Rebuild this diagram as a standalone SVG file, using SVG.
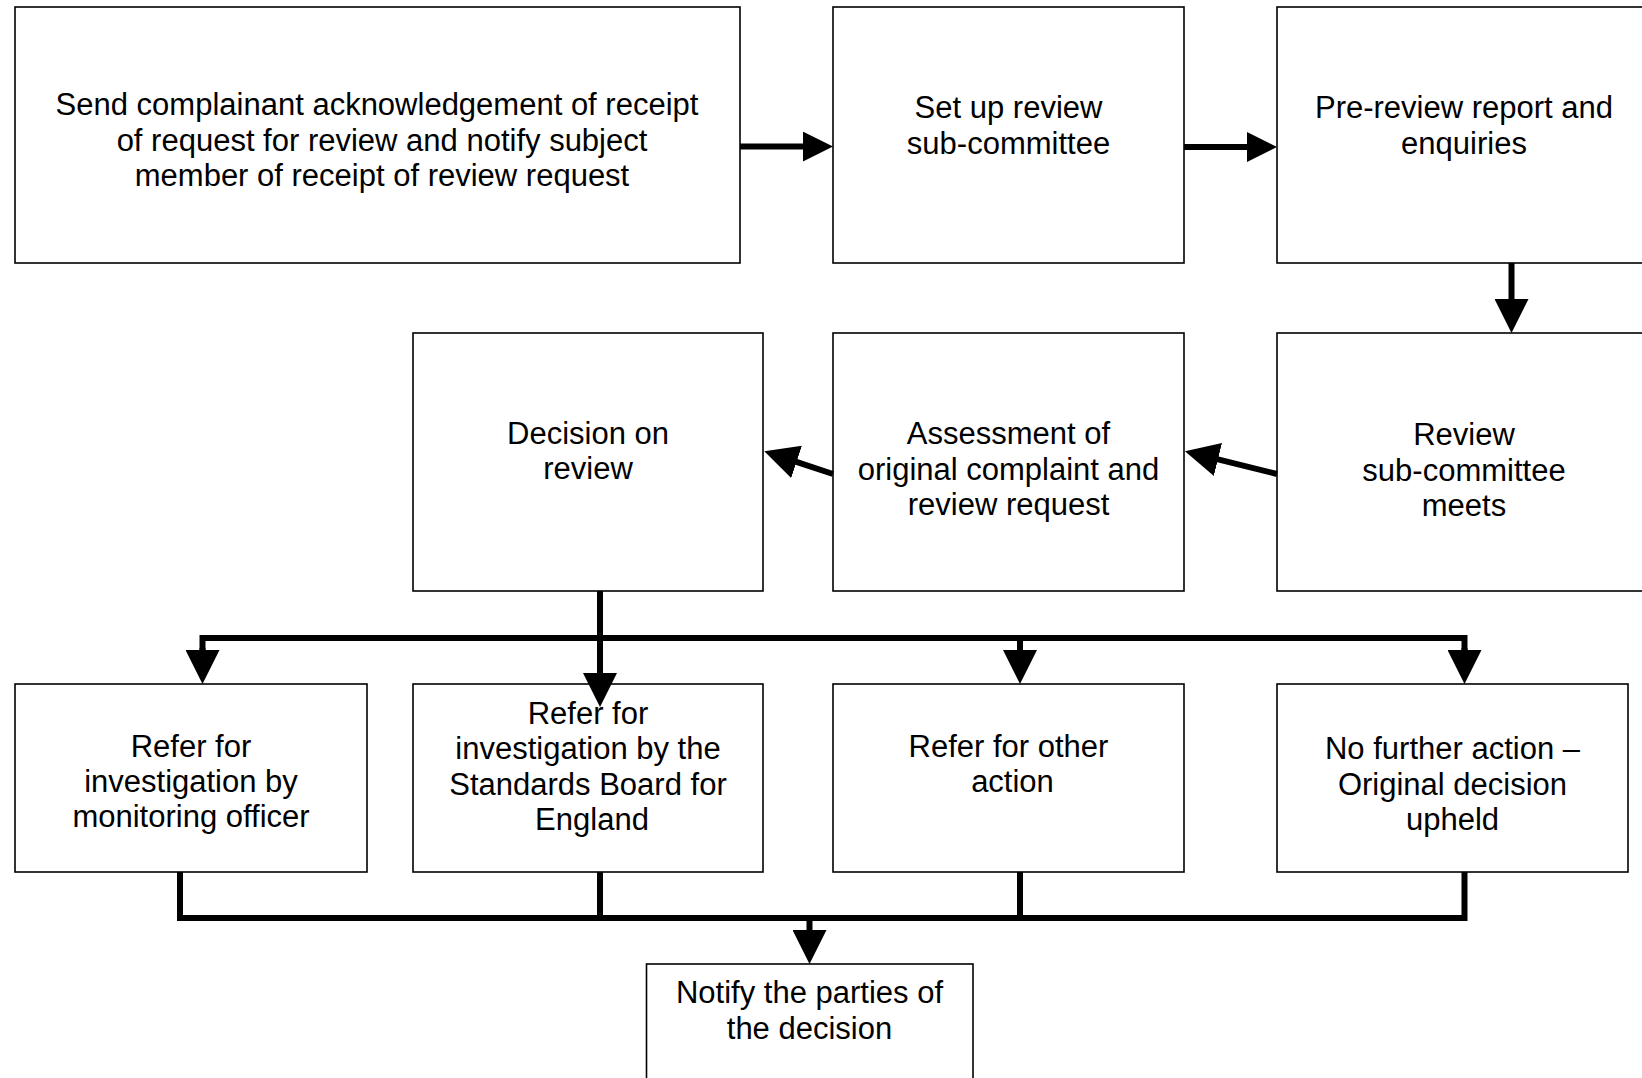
<svg xmlns="http://www.w3.org/2000/svg" width="1642" height="1078" viewBox="0 0 1642 1078">
<style>
  .box { fill: #fff; stroke: #000; stroke-width: 1.6; }
  .lbl { font-family: "Liberation Sans", Arial, sans-serif; font-size: 31px; fill: #000; text-anchor: middle; }
  .con { fill: none; stroke: #000; stroke-width: 6; }
</style>
<defs>
  <marker id="arr" viewBox="0 0 34 34" markerUnits="userSpaceOnUse" markerWidth="34" markerHeight="34" refX="1" refY="17" orient="auto">
    <path d="M0,0 L34,17 L0,34 Z" fill="#000"/>
  </marker>
  <marker id="arrS" viewBox="0 0 30 30" markerUnits="userSpaceOnUse" markerWidth="30" markerHeight="30" refX="1" refY="15" orient="auto">
    <path d="M0,0 L30,15 L0,30 Z" fill="#000"/>
  </marker>
</defs>
<rect width="1642" height="1078" fill="#fff"/>

<g id="n1"><rect class="box" x="15" y="7" width="725" height="256"/>
  <text class="lbl"><tspan x="377" y="115">Send complainant acknowledgement of receipt</tspan><tspan x="382" y="150.5">of request for review and notify subject</tspan><tspan x="382" y="186">member of receipt of review request</tspan></text></g>
<g id="n2"><rect class="box" x="833" y="7" width="351" height="256"/>
  <text class="lbl"><tspan x="1008.5" y="118">Set up review</tspan><tspan x="1008.5" y="153.5">sub-committee</tspan></text></g>
<g id="n3"><rect class="box" x="1277" y="7" width="375" height="256"/>
  <text class="lbl"><tspan x="1464" y="118">Pre-review report and</tspan><tspan x="1464" y="153.5">enquiries</tspan></text></g>
<g id="n4"><rect class="box" x="1277" y="333" width="375" height="258"/>
  <text class="lbl"><tspan x="1464" y="445">Review</tspan><tspan x="1464" y="480.5">sub-committee</tspan><tspan x="1464" y="516">meets</tspan></text></g>
<g id="n5"><rect class="box" x="833" y="333" width="351" height="258"/>
  <text class="lbl"><tspan x="1008.5" y="444">Assessment of</tspan><tspan x="1008.5" y="479.5">original complaint and</tspan><tspan x="1008.5" y="515">review request</tspan></text></g>
<g id="n6"><rect class="box" x="413" y="333" width="350" height="258"/>
  <text class="lbl"><tspan x="588" y="443.5">Decision on</tspan><tspan x="588" y="479">review</tspan></text></g>
<g id="n7"><rect class="box" x="15" y="684" width="352" height="188"/>
  <text class="lbl"><tspan x="191" y="757">Refer for</tspan><tspan x="191" y="792">investigation by</tspan><tspan x="191" y="827">monitoring officer</tspan></text></g>
<g id="n8"><rect class="box" x="413" y="684" width="350" height="188"/>
  <text class="lbl"><tspan x="588" y="723.5">Refer for</tspan><tspan x="588" y="759">investigation by the</tspan><tspan x="588" y="794.5">Standards Board for</tspan><tspan x="592" y="830">England</tspan></text></g>
<g id="n9"><rect class="box" x="833" y="684" width="351" height="188"/>
  <text class="lbl"><tspan x="1008.5" y="757">Refer for other</tspan><tspan x="1012.5" y="792">action</tspan></text></g>
<g id="n10"><rect class="box" x="1277" y="684" width="351" height="188"/>
  <text class="lbl"><tspan x="1452.5" y="759">No further action –</tspan><tspan x="1452.5" y="794.5">Original decision</tspan><tspan x="1452.5" y="830">upheld</tspan></text></g>
<g id="n11"><rect class="box" x="646.5" y="964" width="326.5" height="130"/>
  <text class="lbl"><tspan x="809.5" y="1003">Notify the parties of</tspan><tspan x="809.5" y="1039">the decision</tspan></text></g>

<g id="connectors">
  <path class="con" d="M740,146.6 H804" marker-end="url(#arrS)"/>
  <path class="con" d="M1184,147 H1248" marker-end="url(#arrS)"/>
  <path class="con" d="M1511.5,263 V300" marker-end="url(#arr)"/>
  <path class="con" d="M1277,474 L1217,459.2" marker-end="url(#arr)"/>
  <path class="con" d="M833,474 L795.6,461.6" marker-end="url(#arr)"/>
  <path class="con" d="M600,591 V674" marker-end="url(#arr)"/>
  <path class="con" d="M202.5,651 V638 H1464.5 V651"/>
  <path class="con" d="M202.5,648 V651" marker-end="url(#arr)"/>
  <path class="con" d="M1020,638 V651" marker-end="url(#arr)"/>
  <path class="con" d="M1464.5,648 V651" marker-end="url(#arr)"/>
  <path class="con" d="M180,872 V918 H1464.5 V872"/>
  <path class="con" d="M600,872 V918"/>
  <path class="con" d="M1020,872 V918"/>
  <path class="con" d="M809.5,918 V931" marker-end="url(#arr)"/>
</g>
</svg>
